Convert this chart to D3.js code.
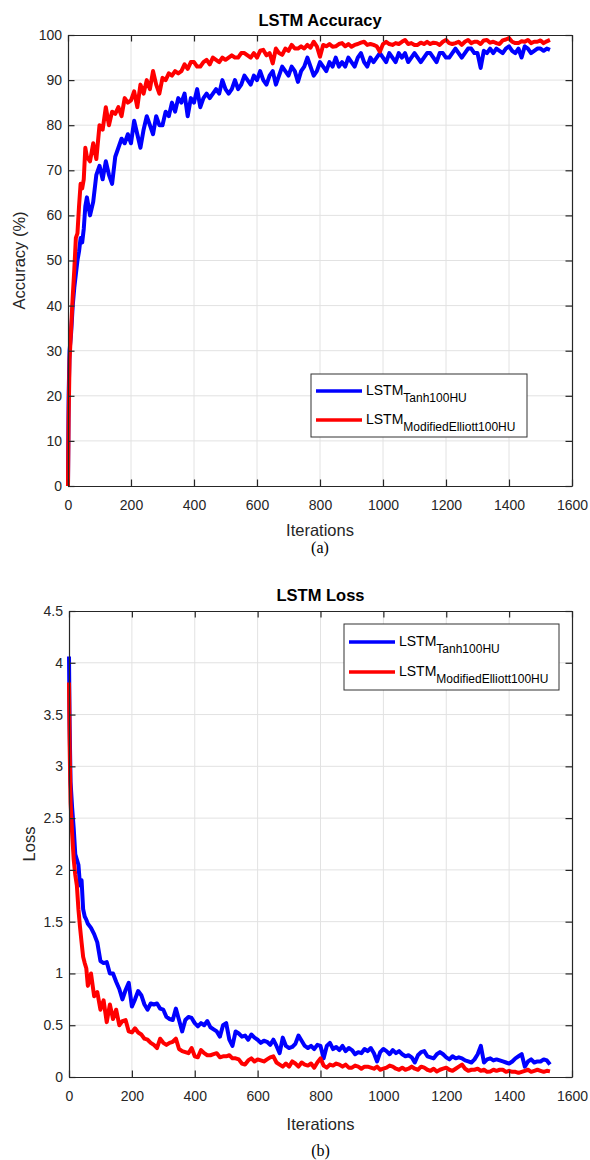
<!DOCTYPE html>
<html><head><meta charset="utf-8">
<script src="https://cdn.jsdelivr.net/npm/d3@7"></script>
<style>body{margin:0;background:#fff} svg{display:block}</style>
</head><body><svg id="c" width="590" height="1160"></svg>
<script>
// ---------- DATA ----------
const iterations = [0,2,5,10,15,20,25,30,35,40,45,50,55,60,70,80,90,
 100,110,120,130,140,150,160,170,180,190,
 200,210,220,230,240,250,260,270,280,290,
 300,310,320,330,340,350,360,370,380,390,
 400,410,420,430,440,450,460,470,480,490,
 500,510,520,530,540,550,560,570,580,590,
 600,610,620,630,640,650,660,670,680,690,
 700,710,720,730,740,750,760,770,780,790,
 800,810,820,830,840,850,860,870,880,890,
 900,910,920,930,940,950,960,970,980,990,
 1000,1010,1020,1030,1040,1050,1060,1070,1080,1090,
 1100,1110,1120,1130,1140,1150,1160,1170,1180,1190,
 1200,1210,1220,1230,1240,1250,1260,1270,1280,1290,
 1300,1310,1320,1330,1340,1350,1360,1370,1380,1390,
 1400,1410,1420,1430,1440,1450,1460,1470,1480,1490,
 1500,1510,1520,1530];

const accTanh = [0,20,30,34,40,44,47,50,52,55,54,57,62,64,60,63,69,
 71,68,72,69,67,73,75,77,76,78,
 76,81,78,75,79,82,80,78,82,80,
 80,83,82,85,83,86,85,87,82,86,
 85,88,84,86,87,86,87,88,87,90,
 88,87,88,90,88,89,91,90,89,91,
 90,92,90,89,91,92,89,91,93,92,
 91,93,92,89.6,92,93,95,93,91,92,
 94,93,92,94,93,95,93,94,93,95,
 94,93,95,96,94,93,95,94,95,96,
 95,94,96,95,94,96,95,96,94,95,
 96,95,94,95,96,96,95,94,96,96,
 95,95,96,97,96,95,96,97,97,96,
 96,92.7,96.5,96,97,96,97,96.5,96,97,
 97.5,96.5,96,97,95,97.5,97,96,96.5,97,
 97,96.5,97,96.7];

const accElliott = [0,15,28,35,42,48,55,56,62,67,66,68,75,73,72,76,72.5,
 80,79,84,80,83,82.5,84,82,86,85,
 85.5,87.5,84,89,87,90,88,92,89,87,
 90.5,90,91.5,91,92,91.5,92,93.5,92.5,94,
 94,93,93,94,94.5,93.5,95,94.5,94,95,
 94.5,95,95.5,95,95,96,96,95.5,95,96,
 95,96.5,96.7,95.5,96,93.7,97,96,95.6,97,
 96.5,97.8,97,97,97.5,97,97.8,97.2,98.5,97.5,
 95.2,97.8,97.5,98,97.4,97.5,98,98.2,97.5,98,
 97.4,97.8,98,98.3,98.5,97.8,98,97.8,97.5,96.3,
 98,98.5,98,97.8,98.2,98,98.5,98.9,98,98.2,
 97.8,97.8,98.3,98,98.5,98,98.3,98.2,97.8,98.5,
 98.9,98.2,98,98.2,98.5,97.8,98.5,98.9,98.2,98.5,
 98.5,98,98.8,98.9,98.3,98.5,98.2,98,98.8,99,
 99.3,98.5,98.2,98.2,98.6,98.5,98.9,98.2,98.5,98.5,
 98.8,98.2,98.6,98.9];

const lossTanh = [4.06,3.4,2.85,2.6,2.4,2.15,2.1,2.05,1.85,1.9,1.62,1.55,1.52,1.48,1.44,1.38,1.3,
 1.12,1.1,1.11,1.0,1.0,0.92,0.85,0.75,0.84,0.91,
 0.68,0.75,0.83,0.79,0.7,0.65,0.71,0.7,0.71,0.66,
 0.65,0.58,0.56,0.55,0.66,0.55,0.44,0.55,0.58,0.57,
 0.52,0.49,0.52,0.5,0.54,0.48,0.46,0.44,0.39,0.5,
 0.52,0.36,0.3,0.44,0.42,0.39,0.4,0.36,0.41,0.38,
 0.36,0.33,0.35,0.34,0.31,0.36,0.3,0.23,0.38,0.3,
 0.28,0.29,0.32,0.4,0.35,0.3,0.28,0.3,0.27,0.31,
 0.3,0.18,0.3,0.33,0.27,0.29,0.26,0.3,0.25,0.28,
 0.26,0.22,0.24,0.23,0.27,0.25,0.28,0.23,0.15,0.24,
 0.27,0.25,0.22,0.26,0.23,0.25,0.22,0.2,0.21,0.19,
 0.14,0.21,0.24,0.25,0.2,0.19,0.18,0.22,0.24,0.22,
 0.19,0.17,0.2,0.18,0.19,0.18,0.16,0.15,0.14,0.17,
 0.22,0.3,0.14,0.17,0.18,0.16,0.17,0.16,0.15,0.14,
 0.13,0.15,0.18,0.2,0.22,0.1,0.15,0.17,0.14,0.15,
 0.15,0.17,0.16,0.12];

const lossElliott = [3.81,3.2,2.65,2.35,2.1,1.95,1.85,1.62,1.45,1.3,1.16,1.1,1.05,0.88,1.0,0.78,0.82,
 0.65,0.74,0.53,0.7,0.56,0.65,0.5,0.54,0.55,0.44,
 0.43,0.47,0.43,0.41,0.37,0.36,0.33,0.31,0.28,0.37,
 0.33,0.31,0.33,0.34,0.37,0.27,0.25,0.24,0.23,0.28,
 0.2,0.19,0.26,0.23,0.21,0.21,0.22,0.23,0.19,0.2,
 0.2,0.21,0.18,0.18,0.17,0.13,0.12,0.16,0.18,0.15,
 0.17,0.16,0.15,0.17,0.19,0.2,0.14,0.12,0.1,0.13,
 0.1,0.15,0.13,0.1,0.14,0.12,0.11,0.13,0.09,0.14,
 0.18,0.11,0.09,0.12,0.11,0.13,0.12,0.1,0.12,0.09,
 0.09,0.11,0.1,0.08,0.1,0.1,0.09,0.08,0.1,0.07,
 0.08,0.09,0.11,0.1,0.08,0.07,0.09,0.07,0.08,0.1,
 0.08,0.07,0.1,0.09,0.07,0.06,0.08,0.054,0.07,0.08,
 0.09,0.07,0.06,0.08,0.1,0.12,0.08,0.06,0.07,0.07,
 0.08,0.06,0.07,0.05,0.054,0.07,0.06,0.07,0.07,0.05,
 0.06,0.05,0.05,0.04,0.05,0.06,0.07,0.05,0.06,0.07,
 0.06,0.05,0.06,0.054];

const xTicks = [0,200,400,600,800,1000,1200,1400,1600];
const accTicks = [0,10,20,30,40,50,60,70,80,90,100];
const lossTicks = [0,0.5,1,1.5,2,2.5,3,3.5,4,4.5];
const lossTickLabels = ["0","0.5","1","1.5","2","2.5","3","3.5","4","4.5"];
const seriesMain = ["LSTM","LSTM"];
const seriesSub = ["Tanh100HU","ModifiedElliott100HU"];
const seriesColors = ["#0000ff","#ff0000"];

// ---------- DRAW ----------
const svg = d3.select("#c");
const FONT = "'Liberation Sans', Arial, Helvetica, sans-serif";
const AX = "#262626";

function panel(o){
  const g = svg.append("g");
  const x = d3.scaleLinear().domain([0,1600]).range([o.left,o.right]);
  const y = d3.scaleLinear().domain([o.yTicks[0], o.yTicks[o.yTicks.length-1]]).range([o.bottom,o.top]);

  g.append("g").selectAll("line").data(xTicks.slice(1,-1)).join("line")
    .attr("x1",d=>x(d)).attr("x2",d=>x(d)).attr("y1",o.top).attr("y2",o.bottom)
    .attr("stroke","#e2e2e2").attr("stroke-width",1);
  g.append("g").selectAll("line").data(o.yTicks.slice(1,-1)).join("line")
    .attr("y1",d=>y(d)).attr("y2",d=>y(d)).attr("x1",o.left).attr("x2",o.right)
    .attr("stroke","#e2e2e2").attr("stroke-width",1);

  const line = d3.line().x((d,i)=>x(iterations[i])).y(d=>y(d));
  o.series.forEach((s,k)=>{
    g.append("path").datum(s).attr("d",line).attr("fill","none")
      .attr("stroke",seriesColors[k]).attr("stroke-width",4)
      .attr("stroke-linejoin","round").attr("stroke-linecap","butt");
  });

  const fmtY = o.yLabels ? (d=>o.yLabels[o.yTicks.indexOf(d)]) : (d=>String(d));
  const style = sel => {
    sel.select(".domain").attr("stroke",AX).attr("stroke-width",1.2);
    sel.selectAll(".tick line").attr("stroke",AX).attr("stroke-width",1.2);
    sel.selectAll("text").attr("font-size",14).attr("font-family",FONT).attr("fill",AX);
  };
  g.append("g").attr("transform",`translate(0,${o.bottom})`)
    .call(d3.axisBottom(x).tickValues(xTicks).tickSize(-6.5).tickSizeOuter(0).tickPadding(14.5).tickFormat(d=>String(d)))
    .call(style);
  g.append("g").attr("transform",`translate(0,${o.top})`)
    .call(d3.axisTop(x).tickValues(xTicks).tickSize(-6.5).tickSizeOuter(0).tickFormat(""))
    .call(style);
  g.append("g").attr("transform",`translate(${o.left},0)`)
    .call(d3.axisLeft(y).tickValues(o.yTicks).tickSize(-6.5).tickSizeOuter(0).tickPadding(6).tickFormat(fmtY))
    .call(style);
  g.append("g").attr("transform",`translate(${o.right},0)`)
    .call(d3.axisRight(y).tickValues(o.yTicks).tickSize(-6.5).tickSizeOuter(0).tickFormat(""))
    .call(style);

  const cx = (o.left+o.right)/2;
  g.append("text").attr("x",cx).attr("y",o.titleY).attr("text-anchor","middle")
    .attr("font-family",FONT).attr("font-size",16.5).attr("font-weight","bold").attr("fill","#000").text(o.title);
  g.append("text").attr("x",cx).attr("y",o.xLabelY).attr("text-anchor","middle")
    .attr("font-family",FONT).attr("font-size",16.5).attr("fill",AX).text("Iterations");
  g.append("text").attr("transform",`translate(${o.yLabelX},${(o.top+o.bottom)/2}) rotate(-90)`)
    .attr("text-anchor","middle").attr("font-family",FONT).attr("font-size",16.5).attr("fill",AX).text(o.yLabel);
  g.append("text").attr("x",cx).attr("y",o.capY).attr("text-anchor","middle")
    .attr("font-family","'Liberation Serif','Times New Roman',serif").attr("font-size",16).attr("fill","#000").text(o.caption);

  const L = o.legend;
  const lg = g.append("g");
  lg.append("rect").attr("x",L.x).attr("y",L.y).attr("width",L.w).attr("height",L.h)
    .attr("fill","#fff").attr("stroke","#333").attr("stroke-width",1);
  seriesMain.forEach((m,k)=>{
    const yy = L.y + L.row0 + k*L.dy;
    lg.append("line").attr("x1",L.x+5).attr("x2",L.x+51).attr("y1",yy).attr("y2",yy)
      .attr("stroke",seriesColors[k]).attr("stroke-width",3.6);
    const t = lg.append("text").attr("x",L.x+55).attr("y",yy+4).attr("font-family",FONT).attr("fill","#000");
    t.append("tspan").attr("font-size",14).text(m);
    t.append("tspan").attr("font-size",12).attr("dy",7).text(seriesSub[k]);
  });
}

panel({left:68, right:572, top:35, bottom:486, yTicks:accTicks,
  series:[accTanh, accElliott], title:"LSTM Accuracy", titleY:26, xLabelY:536,
  yLabel:"Accuracy (%)", yLabelX:25, caption:"(a)", capY:553,
  legend:{x:311, y:374, w:216, h:63, row0:17, dy:29}});

panel({left:69, right:572, top:611, bottom:1077, yTicks:lossTicks, yLabels:lossTickLabels,
  series:[lossTanh, lossElliott], title:"LSTM Loss", titleY:601, xLabelY:1130,
  yLabel:"Loss", yLabelX:35, caption:"(b)", capY:1156,
  legend:{x:344, y:624, w:215, h:66, row0:18, dy:30}});
</script></body></html>
